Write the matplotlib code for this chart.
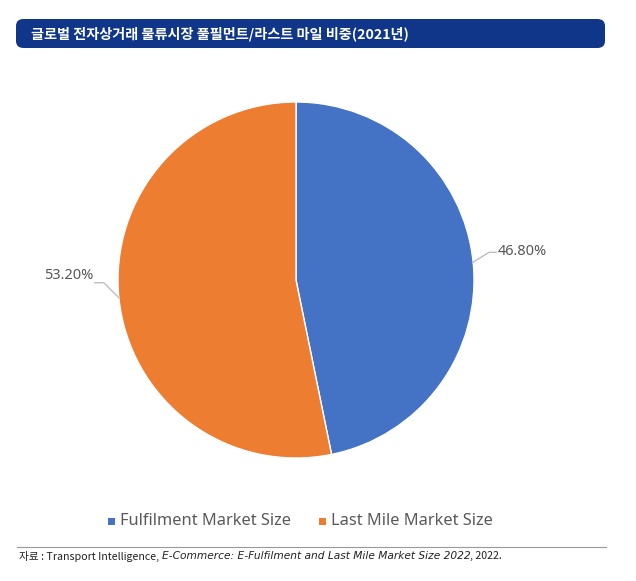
import numpy as np
import matplotlib.pyplot as plt
from matplotlib.patches import FancyBboxPatch, Rectangle
from matplotlib.lines import Line2D

title = '글로벌 전자상거래 물류시장 풀필먼트/라스트 마일 비중(2021년)'
categories = ['Fulfilment Market Size', 'Last Mile Market Size']
shares = [46.80, 53.20]
colors = ['#4472C4', '#ED7D31']

plt.rcParams['font.family'] = ['Noto Sans CJK KR', 'DejaVu Sans']

W, H = 636, 581
fig = plt.figure(figsize=(W / 100, H / 100), dpi=100)

# title bar
bar = FancyBboxPatch((16 / W, 1 - 48 / H), 589 / W, 29 / H,
                     boxstyle='round,pad=0,rounding_size=0.012',
                     transform=fig.transFigure, facecolor='#0f3689',
                     edgecolor='none')
fig.patches.append(bar)
fig.text(31 / W, 1 - 33.5 / H, title, color='white', fontsize=10.2,
         fontweight='bold', va='center', ha='left')

# pie
cx, cy, r = 296, 280, 178
ax = fig.add_axes([(cx - r) / W, (H - cy - r) / H, 2 * r / W, 2 * r / H])
wedges, _ = ax.pie(shares, colors=colors, startangle=90, counterclock=False,
                   radius=1, wedgeprops=dict(edgecolor='white', linewidth=1))
ax.set_xlim(-1, 1)
ax.set_ylim(-1, 1)
ax.set_aspect('auto')
ax.axis('off')

# data labels with leader lines
for w, val in zip(wedges, shares):
    mid = np.deg2rad((w.theta1 + w.theta2) / 2)
    x0, y0 = np.cos(mid), np.sin(mid)
    side = np.sign(x0)
    if side > 0:
        knee = (x0 + 0.09, y0 + 0.055)
        end = (knee[0] + 0.04, knee[1])
        txt = (end[0] + 0.01, end[1] + 0.005)
        ha = 'left'
    else:
        knee = (x0 - 0.085, y0 + 0.085)
        end = (knee[0] - 0.05, knee[1])
        txt = (end[0] - 0.01, end[1] + 0.04)
        ha = 'right'
    ax.plot([x0, knee[0], end[0]], [y0, knee[1], end[1]], color='#bfbfbf',
            lw=1, clip_on=False)
    ax.text(txt[0], txt[1], f'{val:.2f}%', ha=ha, va='center',
            fontsize=10.5, color='#595959', family=['Noto Sans', 'DejaVu Sans'],
            clip_on=False)

# legend
leg_x = [108, 319]
for x, c, lab in zip(leg_x, colors, categories):
    fig.patches.append(Rectangle((x / W, 1 - 525 / H), 7 / W, 7 / H,
                                 transform=fig.transFigure, facecolor=c,
                                 edgecolor='none'))
    fig.text((x + 12) / W, 1 - 521 / H, lab, fontsize=11.8, color='#595959',
             va='center', ha='left', family=['Noto Sans', 'DejaVu Sans'])

# source line
fig.add_artist(Line2D([17 / W, 606 / W], [1 - 547 / H, 1 - 547 / H],
                      transform=fig.transFigure, color='#999999', lw=0.8))
src_y = 1 - 556 / H
fs = 7.7
t1 = fig.text(19 / W, src_y, '자료 : Transport Intelligence, ', fontsize=fs,
              color='#222222', va='center', ha='left')
fig.canvas.draw()
bb = t1.get_window_extent()
t2 = fig.text(bb.x1 / W, src_y,
              'E-Commerce: E-Fulfilment and Last Mile Market Size 2022',
              fontsize=fs, color='#222222', va='center', ha='left',
              style='italic', family=['DejaVu Sans'])
fig.canvas.draw()
bb2 = t2.get_window_extent()
fig.text(bb2.x1 / W, src_y, ', 2022.', fontsize=fs, color='#222222',
         va='center', ha='left')

fig.savefig('out.png', dpi=100)
